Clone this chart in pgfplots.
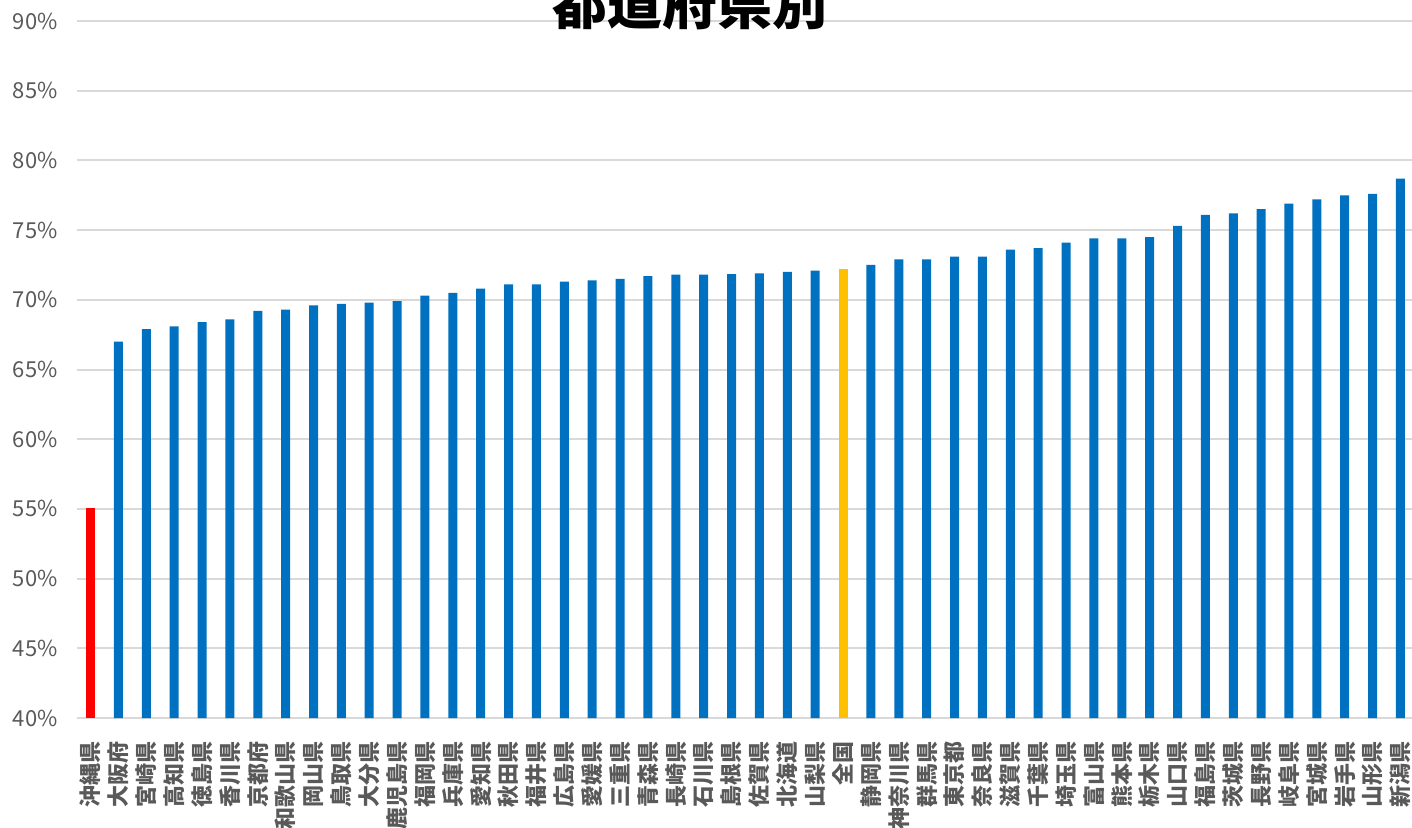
\documentclass[border=0pt]{standalone}
\usepackage{fontspec}
\usepackage{pgfplots}
\pgfplotsset{compat=1.18}
\newfontfamily\cjk{Noto Sans CJK JP}
\definecolor{barblue}{HTML}{0070C0}
\definecolor{barred}{HTML}{FF0000}
\definecolor{bargold}{HTML}{FFC000}
\definecolor{gridgray}{HTML}{D9D9D9}
\definecolor{labelgray}{HTML}{595959}

\begin{document}
\begin{tikzpicture}
\begin{axis}[
    scale only axis,
    width=668.9pt, height=348.5pt,
    at={(0,0)}, anchor=south west,
    ybar, bar width=4.5pt,
    xmin=-0.5, xmax=47.5,
    ymin=40, ymax=90,
    xtick={0,...,47},
    xticklabels={沖縄県,大阪府,宮崎県,高知県,徳島県,香川県,京都府,和歌山県,岡山県,鳥取県,大分県,鹿児島県,福岡県,兵庫県,愛知県,秋田県,福井県,広島県,愛媛県,三重県,青森県,長崎県,石川県,島根県,佐賀県,北海道,山梨県,全国,静岡県,神奈川県,群馬県,東京都,奈良県,滋賀県,千葉県,埼玉県,富山県,熊本県,栃木県,山口県,福島県,茨城県,長野県,岐阜県,宮城県,岩手県,山形県,新潟県},
    ytick={40,45,...,90},
    yticklabels={40\%,45\%,50\%,55\%,60\%,65\%,70\%,75\%,80\%,85\%,90\%},
    xticklabel style={rotate=90, anchor=east, text=labelgray,
        font=\cjk\bfseries\fontsize{11}{11}\selectfont},
    yticklabel style={text=labelgray, font=\cjk\fontsize{11}{11}\selectfont},
    xticklabel shift=4pt,
    yticklabel shift=6pt,
    ymajorgrids,
    major grid style={draw=gridgray, line width=1pt},
    axis line style={draw=none},
    tick style={draw=none},
]
\addplot[fill=barred, draw=none, bar shift=0pt] coordinates {(0,55.1)};
\addplot[fill=barblue, draw=none, bar shift=0pt] coordinates {
    (1,67.0) (2,67.9) (3,68.1) (4,68.4) (5,68.6) (6,69.2) (7,69.3) (8,69.6)
    (9,69.7) (10,69.8) (11,69.9) (12,70.3) (13,70.5) (14,70.8) (15,71.1)
    (16,71.1) (17,71.3) (18,71.4) (19,71.5) (20,71.7) (21,71.8) (22,71.8)
    (23,71.85) (24,71.9) (25,72.0) (26,72.1)
    (28,72.5) (29,72.9) (30,72.9) (31,73.1) (32,73.1) (33,73.6) (34,73.7)
    (35,74.1) (36,74.4) (37,74.4) (38,74.5) (39,75.3) (40,76.1) (41,76.2)
    (42,76.5) (43,76.9) (44,77.2) (45,77.5) (46,77.6) (47,78.7)
};
\addplot[fill=bargold, draw=none, bar shift=0pt] coordinates {(27,72.2)};
\end{axis}
\node[anchor=base, font=\cjk\bfseries\fontsize{27.5}{27.5}\selectfont, inner sep=0pt]
    at (306.7pt,347pt) {都道府県別};
\pgfresetboundingbox
\useasboundingbox (-38.3pt,-54.5pt) rectangle (667.7pt,359pt);
\end{tikzpicture}
\end{document}
